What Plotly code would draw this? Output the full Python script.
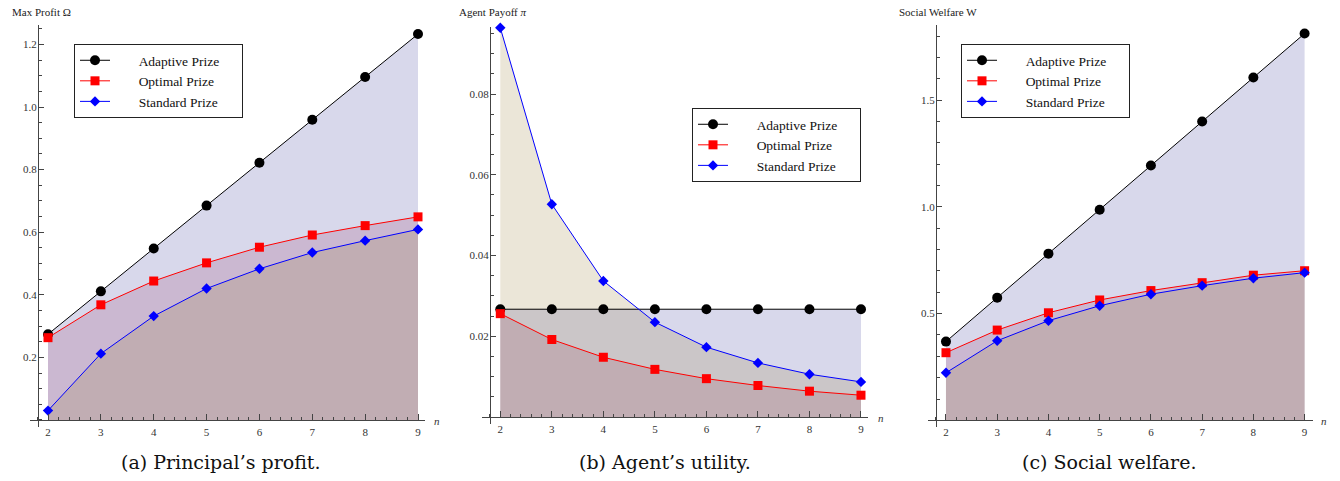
import plotly.graph_objects as go

W, H = 1340, 481

# ---------------- data ----------------
n_vals = [2, 3, 4, 5, 6, 7, 8, 9]
series_names = ["Adaptive Prize", "Optimal Prize", "Standard Prize"]

profit_adaptive = [0.274, 0.411, 0.548, 0.685, 0.822, 0.959, 1.096, 1.233]
profit_optimal = [0.263, 0.368, 0.444, 0.502, 0.552, 0.591, 0.621, 0.649]
profit_standard = [0.030, 0.212, 0.332, 0.420, 0.483, 0.535, 0.573, 0.609]

payoff_adaptive = [0.0267, 0.0267, 0.0267, 0.0267, 0.0267, 0.0267, 0.0267, 0.0267]
payoff_optimal = [0.0256, 0.0192, 0.0148, 0.0118, 0.0095, 0.0078, 0.0064, 0.0054]
payoff_standard = [0.0964, 0.0527, 0.0337, 0.0235, 0.0173, 0.0134, 0.0106, 0.0087]

welfare_adaptive = [0.369, 0.575, 0.781, 0.987, 1.194, 1.400, 1.606, 1.812]
welfare_optimal = [0.317, 0.423, 0.504, 0.564, 0.608, 0.645, 0.680, 0.701]
welfare_standard = [0.223, 0.373, 0.467, 0.537, 0.591, 0.631, 0.666, 0.692]

profit_ticks = [0.2, 0.4, 0.6, 0.8, 1.0, 1.2]
payoff_ticks = [0.02, 0.04, 0.06, 0.08]
welfare_ticks = [0.5, 1.0, 1.5]
x_ticks = [2, 3, 4, 5, 6, 7, 8, 9]

y_titles = ["Max Profit Ω", "Agent Payoff <i>π</i>", "Social Welfare W"]
captions = ["(a) Principal’s profit.", "(b) Agent’s utility.", "(c) Social welfare."]

# ---------------- style ----------------
line_colors = ["#000000", "#ff0000", "#0000ff"]
fill_colors = ["rgba(61,61,153,0.2)", "rgba(153,61,107,0.2)", "rgba(153,128,61,0.2)"]
symbols = ["circle", "square", "diamond"]
msizes = [10, 9, 8]
axis_color = "#444444"
serif = "Liberation Serif, Times New Roman, serif"
tick_font = dict(family=serif, size=11, color="#333333")


def px_x(p):
    return p / W


def px_y(p):
    return 1 - p / H


# panel geometry (pixels)
panels = [
    dict(xd=(30, 425), yd=(25, 427), xr=(1.6595, 9.1324), yr=(-0.0224, 1.262),
         yax=38, xax=420, ticks=profit_ticks, minor=0.05, fmt=".1f",
         data=[profit_adaptive, profit_optimal, profit_standard],
         legend=(74, 44), title=(10, 12), nlab=(437, 421), cap=(221, 462)),
    dict(xd=(482, 868), yd=(27, 424), xr=(1.645, 9.136), yr=(-0.00173, 0.0966),
         yax=490, xax=417, ticks=payoff_ticks, minor=0.005, fmt=".2f",
         data=[payoff_adaptive, payoff_optimal, payoff_standard],
         legend=(692, 108), title=(457, 12), nlab=(881, 418), cap=(665, 462)),
    dict(xd=(928, 1313), yd=(25, 427), xr=(1.649, 9.164), yr=(-0.031, 1.852),
         yax=936, xax=420, ticks=welfare_ticks, minor=0.1, fmt=".1f",
         data=[welfare_adaptive, welfare_optimal, welfare_standard],
         legend=(961, 44), title=(897, 12), nlab=(1324, 421), cap=(1109, 462)),
]

fig = go.Figure()
layout = dict(
    width=W, height=H,
    margin=dict(l=0, r=0, t=0, b=0, pad=0),
    paper_bgcolor="white", plot_bgcolor="rgba(0,0,0,0)",
    showlegend=True,
    annotations=[],
)

pad_left = "\u00a0" * 7
pad_right = "\u00a0" * 5

for i, p in enumerate(panels):
    sfx = "" if i == 0 else str(i + 1)
    xa, ya = "x" + sfx, "y" + sfx
    leg = "legend" + sfx
    for k in range(3):
        fig.add_trace(go.Scatter(
            x=n_vals, y=p["data"][k], mode="none", fill="tozeroy",
            fillcolor=fill_colors[k], showlegend=False, hoverinfo="skip",
            xaxis=xa, yaxis=ya))
    for k in range(3):
        fig.add_trace(go.Scatter(
            x=n_vals, y=p["data"][k], mode="lines+markers",
            name=pad_left + series_names[k] + pad_right,
            line=dict(color=line_colors[k], width=1),
            marker=dict(symbol=symbols[k], size=msizes[k], color=line_colors[k]),
            cliponaxis=False, legend=leg, xaxis=xa, yaxis=ya))

    layout["xaxis" + sfx] = dict(
        domain=[px_x(p["xd"][0]), px_x(p["xd"][1])], range=list(p["xr"]),
        anchor="free", position=px_y(p["xax"]),
        showline=True, linecolor=axis_color, linewidth=1,
        showgrid=False, zeroline=False,
        tickmode="array", tickvals=x_ticks, ticks="inside", ticklen=6,
        tickcolor=axis_color, tickwidth=1, tickfont=tick_font,
        ticklabelstandoff=2,
        minor=dict(dtick=0.2, tick0=0, ticks="inside", ticklen=3.5,
                   tickcolor=axis_color, showgrid=False),
    )
    layout["yaxis" + sfx] = dict(
        domain=[px_y(p["yd"][1]), px_y(p["yd"][0])], range=list(p["yr"]),
        anchor="free", position=px_x(p["yax"]),
        showline=True, linecolor=axis_color, linewidth=1,
        showgrid=False, zeroline=False,
        tickmode="array", tickvals=p["ticks"], tickformat=p["fmt"],
        ticks="inside", ticklen=5, ticklabelstandoff=-1,
        tickcolor=axis_color, tickwidth=1, tickfont=tick_font,
        minor=dict(dtick=p["minor"], tick0=0, ticks="inside", ticklen=3,
                   tickcolor=axis_color, showgrid=False),
    )
    layout[leg] = dict(
        x=px_x(p["legend"][0]), y=px_y(p["legend"][1]),
        xanchor="left", yanchor="top",
        bgcolor="white", bordercolor="#222222", borderwidth=1,
        font=dict(family=serif, size=13.5, color="#111111"),
        itemwidth=30, tracegroupgap=0,
    )
    layout["annotations"] += [
        dict(text=y_titles[i], x=px_x(p["title"][0]), y=px_y(p["title"][1]),
             xref="paper", yref="paper", xanchor="left", yanchor="middle",
             showarrow=False, font=dict(family=serif, size=11, color="#222222")),
        dict(text="<i>n</i>", x=px_x(p["nlab"][0]), y=px_y(p["nlab"][1]),
             xref="paper", yref="paper", xanchor="center", yanchor="middle",
             showarrow=False, font=dict(family=serif, size=11, color="#333333")),
        dict(text=captions[i], x=px_x(p["cap"][0]), y=px_y(p["cap"][1]),
             xref="paper", yref="paper", xanchor="center", yanchor="middle",
             showarrow=False, font=dict(family="DejaVu Serif", size=19, color="#111111")),
    ]

fig.update_layout(**layout)
fig.write_html("out.html",
               config={"displayModeBar": False},
               post_script="document.body.style.margin='0';document.body.style.overflow='hidden';")
